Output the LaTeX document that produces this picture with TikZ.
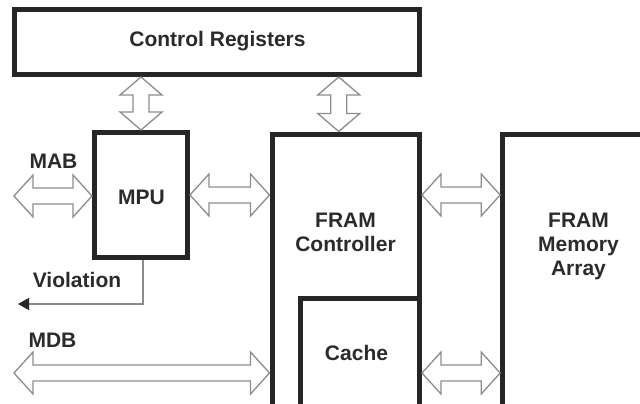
\documentclass[tikz,border=0pt]{standalone}
\usepackage{fontspec}
\setmainfont{Liberation Sans}
\usetikzlibrary{arrows.meta,calc}

\definecolor{boxline}{HTML}{262626}
\definecolor{busline}{HTML}{8C8C8C}
\definecolor{txt}{HTML}{2B2B2B}

\tikzset{
  blk/.style={draw=boxline, line width=5pt, fill=white},
  lbl/.style={text=txt, font=\bfseries\fontsize{21}{24}\selectfont, align=center},
  bus/.style={draw=busline, line width=1.3pt, fill=white, line join=miter},
  sig/.style={draw=busline, line width=1.2pt, -{Triangle[length=11pt,width=12pt,color=boxline]}}
}

% hollow double bus arrows
\newcommand{\hbus}[2]{%
  \path[bus] let \p1=(#1), \p2=(#2) in
    (\x1,\y1) -- (\x1+19pt,\y1+21pt) -- (\x1+19pt,\y1+8pt) -- (\x2-19pt,\y1+8pt)
    -- (\x2-19pt,\y1+21pt) -- (\x2,\y1) -- (\x2-19pt,\y1-21pt) -- (\x2-19pt,\y1-8pt)
    -- (\x1+19pt,\y1-8pt) -- (\x1+19pt,\y1-21pt) -- cycle;}
\newcommand{\vbus}[2]{%
  \path[bus] let \p1=(#1), \p2=(#2) in
    (\x1,\y1) -- (\x1+21pt,\y1-18pt) -- (\x1+8pt,\y1-18pt) -- (\x1+8pt,\y2+18pt)
    -- (\x1+21pt,\y2+18pt) -- (\x1,\y2) -- (\x1-21pt,\y2+18pt) -- (\x1-8pt,\y2+18pt)
    -- (\x1-8pt,\y1-18pt) -- (\x1-21pt,\y1-18pt) -- cycle;}

\begin{document}
\begin{tikzpicture}[x=1pt, y=-1pt]

\useasboundingbox (0,0) rectangle (640,404);
\clip (0,0) rectangle (640,404);

% blocks
\node[blk, minimum width=404.5pt, minimum height=64.5pt] (cr) at (216.75,42.25) {};
\node[blk, minimum width=93pt, minimum height=125pt] (mpu) at (141,195) {};
\node[blk, minimum width=147.5pt, minimum height=306pt] (ctrl) at (345.75,287) {};
\node[blk, minimum width=119pt, minimum height=142pt] (cache) at (360,369) {};
\node[blk, minimum width=197pt, minimum height=306pt] (mem) at (601.2,287) {};

% texts
\node[lbl, anchor=base] (crtxt) at (217.5,47) {Control Registers};
\node[lbl, anchor=base] (mputxt) at (141.5,204) {MPU};
\node[lbl] (ctrltxt) at (345.5,232.5) {FRAM\\Controller};
\node[lbl] (memtxt) at (578.5,246) {FRAM\\Memory\\Array};
\node[lbl, anchor=base] (cachetxt) at (356.5,360) {Cache};
\node[lbl, anchor=base] (mabtxt) at (53.5,168) {MAB};
\node[lbl, anchor=base] (violtxt) at (77,287) {Violation};
\node[lbl, anchor=base] (mdbtxt) at (52.5,347) {MDB};

\coordinate (mab) at (14,196);
\coordinate (mdb) at (14,373);
\coordinate (viol) at (18,304);

% buses
\vbus{cr.south -| mpu.north}{mpu.north}
\vbus{$(cr.south -| ctrl.north)+(-7,0)$}{ctrl.north}
\hbus{mab}{mpu.west}
\hbus{mpu.east}{ctrl.west |- mpu.east}
\hbus{mdb}{ctrl.west |- mdb}
\hbus{ctrl.east |- mpu.east}{mem.west |- mpu.east}
\hbus{cache.east |- mdb}{mem.west |- mdb}

\draw[sig] ($(mpu.south)+(2,0)$) |- (viol);

\end{tikzpicture}
\end{document}
